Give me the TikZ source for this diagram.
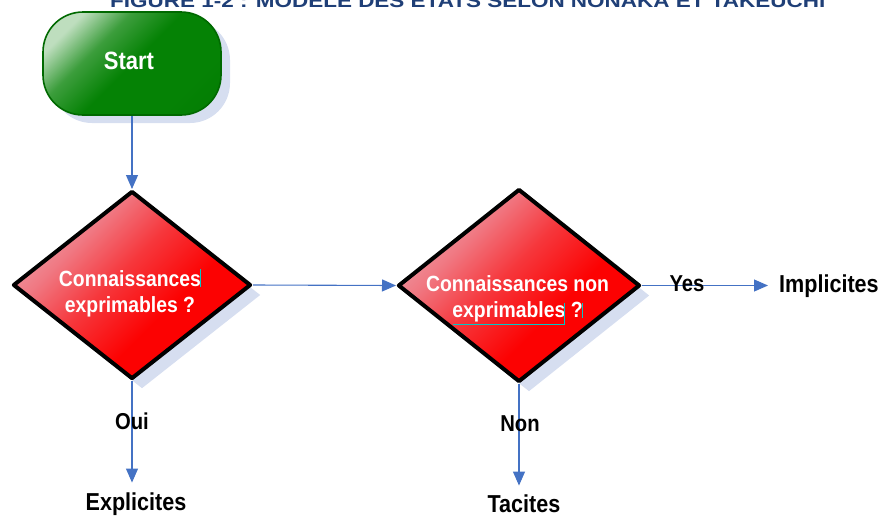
\documentclass[tikz,border=0pt]{standalone}
\usepackage{fontspec}
\usepackage{graphicx}
\setmainfont{Liberation Sans}
\newfontfamily\narrowfont{Liberation Sans}[FakeStretch=0.88]
\usetikzlibrary{shapes.geometric,shadows,shadings,arrows.meta}
\definecolor{arrowblue}{HTML}{4472C4}
\definecolor{shadowblue}{RGB}{214,222,240}
\definecolor{titleblue}{HTML}{1F3F77}
\definecolor{startgreen}{RGB}{5,130,5}
\definecolor{startdark}{RGB}{0,118,0}
\definecolor{startlight}{RGB}{190,222,190}
\definecolor{startborder}{RGB}{0,105,0}
\definecolor{redlight}{RGB}{236,165,175}
\definecolor{redpink}{RGB}{240,120,130}
\definecolor{redmid}{RGB}{246,55,60}
\definecolor{redfull}{RGB}{252,2,2}
\definecolor{cursorcyan}{RGB}{0,200,200}
\pgfdeclareverticalshading{greenglow}{100bp}{color(0bp)=(startdark); color(30bp)=(startgreen); color(50bp)=(startgreen); color(63bp)=(startgreen!70!startlight); color(75bp)=(startlight); color(100bp)=(startlight)}
\pgfdeclareverticalshading{redglow}{100bp}{color(0bp)=(redfull); color(40bp)=(redfull); color(54bp)=(redmid); color(66bp)=(redpink); color(77bp)=(redlight); color(100bp)=(redlight)}
\begin{document}
\begin{tikzpicture}[x=1pt,y=-1pt,
  startbox/.style={rectangle, rounded corners=40pt, minimum width=178pt, minimum height=103pt,
    inner sep=0, draw=startborder, line width=1.6pt,
    shading=greenglow, shading angle=45,
    general shadow={shadow xshift=9pt, shadow yshift=-8pt, fill=shadowblue}},
  decision/.style={diamond, inner sep=0, draw=black, line width=4pt, line join=round,
    shading=redglow, shading angle=45,
    general shadow={shadow xshift=10pt, shadow yshift=-10pt, fill=shadowblue}},
  dtext/.style={inner sep=0, align=center, text=white, font=\narrowfont\bfseries\fontsize{22}{26}\selectfont},
  lab/.style={inner sep=0, text=black, font=\narrowfont\bfseries\fontsize{23}{26}\selectfont},
  target/.style={inner sep=0, text=black, font=\narrowfont\bfseries\fontsize{24.5}{28}\selectfont},
  flow/.style={draw=arrowblue, line width=1.1pt, -{Triangle[length=14pt,width=12pt]}},
  artifact/.style={draw=cursorcyan, line width=0.8pt}
]
\useasboundingbox (0,0) rectangle (881,515);

% partially visible title
\node[anchor=base west, inner sep=0, text=titleblue] (title) at (110,7)
  {\resizebox{715pt}{13pt}{\bfseries FIGURE 1-2 : MODELE DES ETATS SELON NONAKA ET TAKEUCHI}};

% shapes
\node[startbox] (start) at (132,63.5) {};
\node[text=white, inner sep=0, font=\narrowfont\bfseries\fontsize{25}{28}\selectfont] (starttext) at (129,61) {Start};

\node[decision, minimum width=238pt, minimum height=188pt] (d1) at (132,285) {};
\node[decision, minimum width=242pt, minimum height=193pt] (d2) at (519,285.5) {};

\node[dtext] (q1) at (130,294) {Connaissances\\exprimables ?};
\node[dtext] (q2) at (517.5,299) {Connaissances non\\exprimables ?};

% outcomes
\node[target, anchor=base west] (impl) at (779,292) {Implicites};
\node[target, anchor=base] (expl) at (136,510) {Explicites};
\node[target, anchor=base] (tac) at (524,512) {Tacites};

% connectors
\draw[flow] (start.south) -- (d1.north);
\draw[flow] (d1.east) -- (d2.west);
\draw[flow, shorten >=11pt] (d2.east) -- (d2.east -| impl.west);
\draw[flow, shorten >=9.5pt] (d1.south) -- (d1.south |- expl.north);
\draw[flow, shorten >=8.5pt] (d2.south) -- (d2.south |- tac.north);

% edge labels
\node[lab] (yes) at (687,284) {Yes};
\node[lab] (oui) at (132,421) {Oui};
\node[lab] (non) at (520,424) {Non};

% selection artefacts
\draw[artifact] (200,269) -- (200,287);
\draw[artifact] (453,324) -- (564,324) -- (564,303);
\draw[artifact] (582,303) -- (582,318);
\end{tikzpicture}
\end{document}
